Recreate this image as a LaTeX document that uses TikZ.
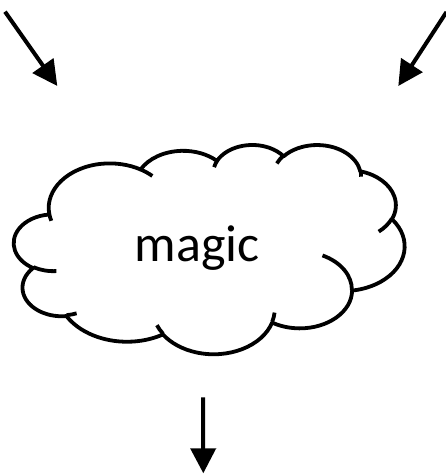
\documentclass[tikz,border=0pt]{standalone}
\usepackage{fontspec}
\setmainfont{Carlito}
\usetikzlibrary{arrows.meta, calc}

\tikzset{
  flow/.style={line width=4pt, -{Triangle[length=25pt,width=25pt]}},
  cloudline/.style={line width=3.8pt, line join=round},
  declare function={
    pang(\ra,\rb,\ta)=atan2(\ra*sin(\ta),\rb*cos(\ta));
    pswp(\ra,\rb,\ta,\tb)=mod(pang(\ra,\rb,\ta+\tb)-pang(\ra,\rb,\ta)+540,360)-180;
  }
}

\begin{document}
\begin{tikzpicture}[x=1pt,y=1pt]
  \useasboundingbox (0,0) rectangle (446,475);

  % Cloud outline (lobes as elliptic arcs, y pointing down inside the scope)
  \begin{scope}[shift={(14pt,330.7pt)}, x=0.9039pt, y=-0.4843pt]
    \draw[cloudline] (39.00,143.70)
      \foreach \ra/\rb/\st/\sw in {
        67.53/91.90/-190.4875/123.7805,
        53.33/72.67/-144.1024/89.9452,
        43.65/59.45/-145.8079/99.7230,
        48.57/65.95/-130.9861/117.2417,
        53.33/72.73/-78.7089/109.0269,
        67.75/92.20/-46.2673/130.2690,
        57.85/78.67/0.6250/114.0333,
        67.52/92.15/22.4516/115.1726,
        77.20/105.43/66.2426/75.7110,
        43.60/59.18/-274.9421/146.7356,
        43.45/59.45/-246.8285/152.5189}{
        arc[start angle={pang(\ra,\rb,\st)}, delta angle={pswp(\ra,\rb,\st,\sw)},
            x radius=\ra, y radius=\rb]
      } -- cycle;

    % Inner creases
    \draw[cloudline]
      \foreach \px/\py/\ra/\rb/\st/\sw in {
        46.93/261.77/43.45/59.45/86.7420/26.4295,
        69.28/348.99/43.60/59.18/73.6105/11.4475,
        164.78/390.90/67.52/92.15/137.6242/14.0811,
        288.27/347.51/67.52/92.15/6.4533/15.9984,
        341.29/229.54/57.85/78.67/-70.2924/70.9174,
        417.98/153.54/53.33/72.73/30.3180/27.7515,
        383.24/54.26/48.57/65.95/-13.7443/14.8512,
        290.78/39.52/48.57/65.95/-149.1815/18.1962,
        221.41/47.20/43.65/59.45/-163.4943/17.6999,
        140.00/51.92/67.53/91.90/-66.7070/12.3194,
        41.27/157.89/67.53/91.90/157.6544/11.8582}{
        (\px,\py) arc[start angle={pang(\ra,\rb,\st)}, delta angle={pswp(\ra,\rb,\st,\sw)},
            x radius=\ra, y radius=\rb]
      };
  \end{scope}

  % Label
  \node[anchor=base, inner sep=0pt, font=\fontsize{52}{60}\selectfont] (magic) at (197,213.3) {magic};

  % Arrow ends
  \coordinate (inL) at (5,463.3);
  \coordinate (inLtip) at (57.3,389);
  \coordinate (inR) at (446.5,463);
  \coordinate (inRtip) at (398.3,389);
  \coordinate (out) at (203,77.7);
  \coordinate (outtip) at (203.3,1.7);

  % Arrows
  \draw[flow] (inL) -- (inLtip);
  \draw[flow] (inR) -- (inRtip);
  \draw[flow] (out) -- (outtip);
\end{tikzpicture}
\end{document}
